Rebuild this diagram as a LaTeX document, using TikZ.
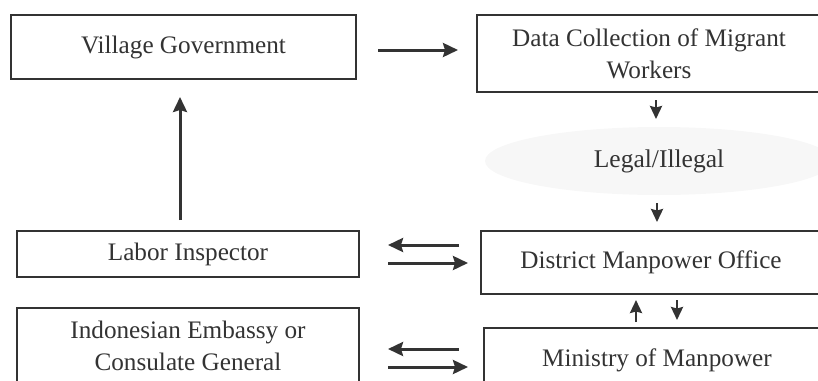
\documentclass[tikz,border=0pt]{standalone}
\usepackage{fontspec}
\setmainfont{Liberation Serif}
\usetikzlibrary{calc,positioning,arrows.meta,shapes.geometric}
\definecolor{tinta}{HTML}{333333}
\definecolor{oval}{HTML}{F7F7F7}
\tikzset{
  kotak/.style={draw=tinta, line width=1.6pt, fill=white, align=center, inner sep=0pt,
    text=tinta, font=\fontsize{25.2}{32}\selectfont},
  panah/.style={tinta, line width=3pt, -{Stealth[length=15pt,width=14pt,inset=2pt]}},
  panahkecil/.style={tinta, line width=2.5pt, -{Stealth[length=13pt,width=12pt,inset=1.5pt]}},
}
\begin{document}
\begin{tikzpicture}[x=1pt,y=-1pt]

\clip (0,0) rectangle (818,380);

% elips legal/ilegal
\node[ellipse, fill=oval, minimum width=348pt, minimum height=68pt, inner sep=0pt,
  text=tinta, font=\fontsize{25.5}{32}\selectfont] (legal) at (659,161) {Legal/Illegal};

% kotak-kotak
\node[kotak, minimum width=345pt, minimum height=64pt] (desa) at (183.5,47) {Village Government};
\node[kotak, minimum width=344pt, minimum height=77pt] (pendataan) at (649,53.5) {Data Collection of Migrant\\Workers};
\node[kotak, minimum width=342pt, minimum height=46pt] (pengawas) at (188,254) {Labor Inspector};
\node[kotak, minimum width=340pt, minimum height=63pt] (disnaker) at (651,262.5) {District Manpower Office};
\node[kotak, minimum width=342pt, minimum height=76pt] (kbri) at (188,346) {Indonesian Embassy or\\Consulate General};
\node[kotak, minimum width=346pt, minimum height=64pt] (kemnaker) at (657,360) {Ministry of Manpower};

% titik-titik panah
\coordinate (p1) at (378,50);
\coordinate (p2) at (458,50);
\coordinate (p3) at (656,100);
\coordinate (p4) at (656,119);
\coordinate (p5) at (657,203);
\coordinate (p6) at (657,222);
\coordinate (p7) at (180,220);
\coordinate (p8) at (180,97);
\coordinate (p9) at (459,245);
\coordinate (p10) at (388,245);
\coordinate (p11) at (388,263);
\coordinate (p12) at (468,263);
\coordinate (p13) at (459,349);
\coordinate (p14) at (388,349);
\coordinate (p15) at (388,367);
\coordinate (p16) at (468,367);
\coordinate (p17) at (636,322);
\coordinate (p18) at (636,300);
\coordinate (p19) at (677,300);
\coordinate (p20) at (677,320);

% panah
\draw[panah] (p1) -- (p2);
\draw[panahkecil] (p3) -- (p4);
\draw[panahkecil] (p5) -- (p6);
\draw[panah] (p7) -- (p8);
\draw[panah] (p9) -- (p10);
\draw[panah] (p11) -- (p12);
\draw[panah] (p13) -- (p14);
\draw[panah] (p15) -- (p16);
\draw[panahkecil] (p17) -- (p18);
\draw[panahkecil] (p19) -- (p20);

\end{tikzpicture}
\end{document}
